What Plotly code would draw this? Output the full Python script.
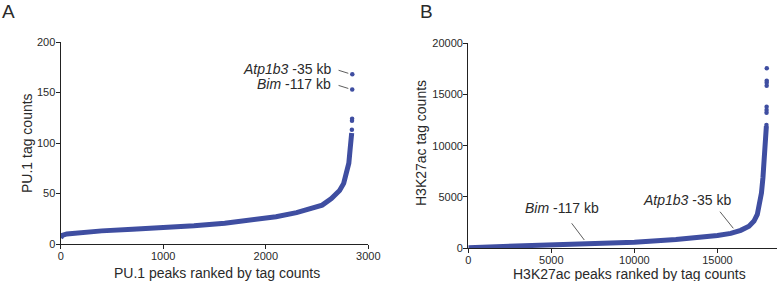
import plotly.graph_objects as go

# ---- Panel A: PU.1 peaks ----
pu1_rank = [0, 15, 60, 200, 400, 700, 1000, 1300, 1600, 1900, 2100, 2300, 2450, 2550, 2640, 2720, 2760, 2790, 2810, 2822, 2832, 2838]
pu1_counts = [6, 8.5, 10, 11.5, 13, 14.5, 16, 18, 20.5, 24, 27, 31, 35, 38.5, 45, 53, 60, 70, 80, 93, 102, 110]
pu1_top_rank = [2840, 2841, 2842, 2843, 2844]
pu1_top_counts = [113, 122, 124, 153, 168]

# ---- Panel B: H3K27ac peaks ----
h3_rank = [0, 1000, 2500, 5000, 7500, 10000, 12500, 14000, 15000, 15800, 16400, 16900, 17200, 17400, 17550, 17650, 17740, 17820, 17880, 17920, 17945]
h3_counts = [60, 120, 180, 290, 420, 600, 850, 1050, 1250, 1450, 1750, 2150, 2650, 3300, 4300, 5400, 6900, 8500, 9800, 10800, 11900]
h3_top_rank = [17950, 17955, 17958, 17960, 17963, 17965, 17967, 17970]
h3_top_counts = [12010, 13210, 13470, 13800, 15840, 16130, 16330, 17535]

# tick labels
pu1_xticks = [0, 1000, 2000, 3000]
pu1_yticks = [0, 50, 100, 150, 200]
h3_xticks = [0, 5000, 10000, 15000]
h3_yticks = [0, 5000, 10000, 15000, 20000]

BLUE = "#3f4ea1"
TXT = "#2a2a2a"
FONT = "Liberation Sans, Arial, sans-serif"

fig = go.Figure()
fig.add_trace(go.Scatter(x=pu1_rank, y=pu1_counts, mode="lines",
                         line=dict(color=BLUE, width=5), xaxis="x", yaxis="y",
                         hoverinfo="skip"))
fig.add_trace(go.Scatter(x=pu1_top_rank, y=pu1_top_counts, mode="markers",
                         marker=dict(color=BLUE, size=4.5), xaxis="x", yaxis="y"))
fig.add_trace(go.Scatter(x=h3_rank, y=h3_counts, mode="lines",
                         line=dict(color=BLUE, width=5), xaxis="x2", yaxis="y2",
                         hoverinfo="skip"))
fig.add_trace(go.Scatter(x=h3_top_rank, y=h3_top_counts, mode="markers",
                         marker=dict(color=BLUE, size=4.5), xaxis="x2", yaxis="y2"))

W, H = 777, 281
axcommon = dict(showline=True, linecolor="#222", linewidth=1.3, ticks="outside",
                ticklen=4, tickcolor="#222", tickwidth=1.2, showgrid=False,
                zeroline=False, automargin=False,
                tickfont=dict(size=11, color=TXT, family=FONT))

fig.update_layout(
    width=W, height=H, margin=dict(l=0, r=0, t=0, b=0, autoexpand=False),
    paper_bgcolor="white", plot_bgcolor="white", showlegend=False,
    font=dict(family=FONT, color=TXT),
    xaxis=dict(axcommon, domain=[60.7 / W, 368.3 / W], range=[0, 3000],
               tickvals=pu1_xticks, ticktext=[str(v) for v in pu1_xticks], anchor="y",
               ticklabelstandoff=-2),
    yaxis=dict(axcommon, domain=[(H - 244) / H, (H - 42) / H], range=[0, 200],
               tickvals=pu1_yticks, ticktext=[str(v) for v in pu1_yticks], anchor="x",
               ticklabelstandoff=-2),
    xaxis2=dict(axcommon, domain=[468.3 / W, 1.0], range=[0, 18585],
                tickvals=h3_xticks, ticktext=[str(v) for v in h3_xticks], anchor="y2",
                ticklabelstandoff=-3),
    yaxis2=dict(axcommon, domain=[(H - 248.3) / H, (H - 43) / H], range=[0, 20000],
                tickvals=h3_yticks, ticktext=[str(v) for v in h3_yticks], anchor="x2",
                ticklabelstandoff=-2),
)

def pap(px, py):
    return px / W, (H - py) / H

tfont = dict(size=14, color=TXT, family=FONT)
# axis titles
for txt, (px, py), ang in [
    ("PU.1 peaks ranked by tag counts", (217, 272.5), 0),
    ("H3K27ac peaks ranked by tag counts", (629, 273.5), 0),
    ("PU.1 tag counts", (27, 143), -90),
    ("H3K27ac tag counts", (421, 143), -90),
]:
    x, y = pap(px, py)
    fig.add_annotation(x=x, y=y, xref="paper", yref="paper", text=txt, textangle=ang,
                       showarrow=False, xanchor="center", yanchor="middle", font=tfont,
                       borderpad=0)

# panel letters
for letter, px in [("A", 8.5), ("B", 426.5)]:
    x, y = pap(px, 12)
    fig.add_annotation(x=x, y=y, xref="paper", yref="paper", text=letter,
                       showarrow=False, xanchor="center", yanchor="middle",
                       font=dict(size=19, color=TXT, family=FONT))

# labels panel A
afont = dict(size=14, color=TXT, family=FONT)
fig.add_annotation(x=2655, y=173, xref="x", yref="y", text="<i>Atp1b3</i> -35 kb",
                   showarrow=False, xanchor="right", yanchor="middle", font=afont)
fig.add_annotation(x=2655, y=158, xref="x", yref="y", text="<i>Bim</i> -117 kb",
                   showarrow=False, xanchor="right", yanchor="middle", font=afont)
fig.add_shape(type="line", xref="x", yref="y", x0=2710, y0=172, x1=2805, y1=169,
              line=dict(color="#333", width=0.8))
fig.add_shape(type="line", xref="x", yref="y", x0=2710, y0=157, x1=2805, y1=154,
              line=dict(color="#333", width=0.8))

# labels panel B
fig.add_annotation(x=5623, y=3926, xref="x2", yref="y2", text="<i>Bim</i> -117 kb",
                   showarrow=False, xanchor="center", yanchor="middle", font=afont)
fig.add_annotation(x=13149, y=4705, xref="x2", yref="y2", text="<i>Atp1b3</i> -35 kb",
                   showarrow=False, xanchor="center", yanchor="middle", font=afont)
fig.add_shape(type="line", xref="x2", yref="y2", x0=6225, y0=2435, x1=6984, y1=808,
              line=dict(color="#333", width=0.8))
fig.add_shape(type="line", xref="x2", yref="y2", x0=15153, y0=3565, x1=15954, y1=1948,
              line=dict(color="#333", width=0.8))

fig.write_html("out.html", config={"displayModeBar": False},
               post_script="document.body.style.margin='0px';"
                           "document.body.style.overflow='hidden';")
